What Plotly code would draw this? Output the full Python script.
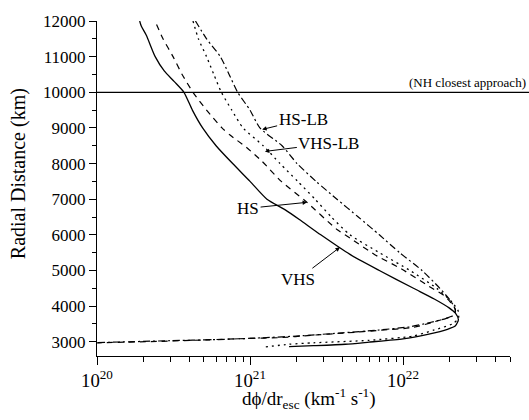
import numpy as np
import plotly.graph_objects as go

# ---------------- data ----------------
vhs_flux = [1.90e20, 1.95e20, 2.10e20, 2.40e20, 2.75e20, 3.20e20, 3.70e20, 4.20e20, 4.90e20,
            6.00e20, 7.70e20, 1.00e21, 1.29e21, 1.70e21, 2.10e21, 2.90e21, 4.50e21, 7.00e21,
            1.17e22, 1.60e22, 2.00e22, 2.20e22, 2.30e22, 2.20e22, 1.95e22, 1.45e22, 1.00e22,
            6.00e21, 4.20e21, 2.60e21, 1.80e21]
vhs_r = [12000, 11850, 11600, 11000, 10600, 10300, 10000, 9500, 9000,
         8500, 8000, 7500, 7000, 6700, 6430, 6000, 5450, 5000,
         4500, 4200, 3950, 3800, 3620, 3450, 3350, 3210, 3080,
         2990, 2930, 2890, 2865]

hs_flux = [2.45e20, 2.70e20, 3.14e20, 3.60e20, 4.24e20, 5.20e20, 6.56e20, 7.40e20, 9.50e20,
           1.20e21, 1.60e21, 2.30e21, 3.70e21, 4.50e21, 6.50e21, 9.70e21, 1.55e22, 1.85e22,
           2.05e22, 2.20e22, 2.15e22, 1.95e22, 1.60e22, 1.16e22, 7.00e21, 4.30e21, 2.50e21,
           1.57e21, 1.00e21, 5.00e20, 2.50e20, 1.00e20]
hs_r = [11900, 11500, 11000, 10500, 10000, 9500, 9000, 8800, 8450,
        8060, 7500, 6950, 6150, 5910, 5450, 5050, 4500, 4300,
        4100, 3900, 3750, 3670, 3560, 3400, 3320, 3250, 3180,
        3115, 3095, 3050, 3010, 2970]

vhslb_flux = [4.24e20, 4.60e20, 5.20e20, 5.80e20, 6.50e20, 7.60e20, 9.00e20, 1.22e21, 1.57e21,
              2.05e21, 2.66e21, 3.40e21, 4.50e21, 7.00e21, 1.11e22, 1.66e22, 2.10e22, 2.30e22,
              2.30e22, 2.10e22, 1.60e22, 1.16e22, 6.00e21, 2.60e21, 1.80e21, 1.25e21]
vhslb_r = [12000, 11500, 11000, 10500, 10000, 9500, 9000, 8500, 8000,
           7500, 7000, 6500, 6000, 5500, 5000, 4500, 4100, 3850,
           3650, 3500, 3330, 3160, 3040, 2970, 2930, 2850]

hslb_flux = [4.40e20, 5.20e20, 6.40e20, 7.30e20, 8.30e20, 1.00e21, 1.16e21, 1.62e21, 2.03e21,
             2.70e21, 3.70e21, 5.10e21, 7.00e21, 9.50e21, 1.33e22, 1.74e22, 2.00e22, 2.15e22,
             2.20e22, 2.10e22, 1.90e22, 1.50e22, 1.10e22, 7.00e21, 4.00e21, 2.20e21, 1.20e21,
             6.00e20, 3.00e20, 1.00e20]
hslb_r = [12000, 11500, 11000, 10500, 10000, 9500, 9000, 8500, 8000,
          7500, 7000, 6500, 6000, 5500, 5000, 4500, 4200, 4000,
          3850, 3720, 3650, 3540, 3420, 3330, 3250, 3170, 3110,
          3060, 3030, 2975]

nh_closest = 10000

labels = ["HS-LB", "VHS-LB", "HS", "VHS"]
label_tip_flux = [1.20e21, 1.25e21, 2.36e21, 3.87e21]
label_tip_r = [8956, 8340, 6912, 5652]

FONT = "Liberation Serif, Times New Roman, serif"

fig = go.Figure()
series = [
    ("VHS", vhs_flux, vhs_r, "solid", 1.3),
    ("HS", hs_flux, hs_r, "6px,5px", 1.2),
    ("VHS-LB", vhslb_flux, vhslb_r, "2px,4px", 1.3),
    ("HS-LB", hslb_flux, hslb_r, "7px,3px,2px,3px", 1.2),
]
for name, xs, ys, dash, w in series:
    fig.add_trace(go.Scatter(x=xs, y=ys, mode="lines", name=name,
                             line=dict(color="black", width=w, dash=dash, shape="spline", smoothing=0.6),
                             showlegend=False))

fig.add_shape(type="line", xref="paper", yref="y", x0=0, x1=1.046, y0=nh_closest, y1=nh_closest,
              line=dict(color="black", width=1.2), layer="above")

fig.add_annotation(text="(NH closest approach)", xref="paper", yref="y", x=1.0436, y=nh_closest,
                   xanchor="right", yanchor="bottom", showarrow=False,
                   font=dict(family=FONT, size=13, color="black"))

offsets = [(41, -10), (64, -8), (-59, 6), (-42, 32)]
for lab, fx, ry, (ax, ay) in zip(labels, label_tip_flux, label_tip_r, offsets):
    fig.add_annotation(text=lab, x=np.log10(fx), y=ry, xref="x", yref="y",
                       ax=ax, ay=ay, showarrow=True, arrowhead=2, arrowsize=0.9,
                       arrowwidth=1, arrowcolor="black",
                       font=dict(family=FONT, size=17, color="black"))

fig.add_annotation(text="Radial Distance (km)", textangle=-90, xref="paper", yref="paper",
                   x=-0.191, y=0.543, xanchor="center", yanchor="middle", showarrow=False,
                   font=dict(family=FONT, size=20, color="black"))
fig.add_annotation(text="d\u03d5/dr<sub>esc</sub> (km<sup>-1</sup> s<sup>-1</sup>)",
                   xref="paper", yref="paper", x=0.513, y=-0.128,
                   xanchor="center", yanchor="middle", showarrow=False,
                   font=dict(family=FONT, size=19, color="black"))

fig.update_layout(
    width=529, height=420,
    margin=dict(l=97, r=19, t=19, b=64),
    paper_bgcolor="white", plot_bgcolor="white",
    font=dict(family=FONT, color="black"),
    xaxis=dict(type="log", range=[20, np.log10(5e22)], showline=True, linecolor="black",
               linewidth=1, ticks="outside", ticklen=8, tickwidth=1, tickcolor="black",
               dtick=1, exponentformat="power", showgrid=False, zeroline=False,
               tickfont=dict(family=FONT, size=15, color="black"),
               minor=dict(ticks="outside", ticklen=5, tickwidth=1, tickcolor="black",
                          dtick="D1", showgrid=False)),
    yaxis=dict(range=[2600, 12000], showline=True, linecolor="black", linewidth=1,
               ticks="outside", ticklen=7, tickwidth=1, tickcolor="black",
               tick0=0, dtick=1000, tickformat="d", showgrid=False, zeroline=False,
               tickfont=dict(family=FONT, size=17, color="black"),
               minor=dict(ticks="outside", ticklen=4, tickwidth=1, tickcolor="black",
                          tick0=0, dtick=500, showgrid=False)),
)

fig.write_html("out.html", config={"displayModeBar": False},
               post_script="document.body.style.margin='0';document.body.style.padding='0';")
